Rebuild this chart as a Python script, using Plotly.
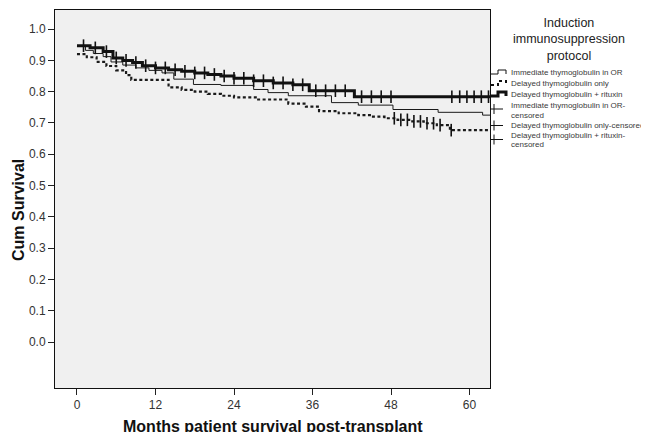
import numpy as np
import plotly.graph_objects as go

# ---------------- data ----------------
imm_months = [0, 1.3, 2.5, 4, 5.2, 7, 9, 11, 13, 14.8, 17.8, 22, 27, 29.2, 32.3, 38.9, 43, 48.3, 55.2, 62, 63.2]
imm_surv = [0.945, 0.932, 0.922, 0.912, 0.895, 0.885, 0.876, 0.868, 0.86, 0.84, 0.823, 0.82, 0.807, 0.797,
            0.787, 0.765, 0.757, 0.743, 0.734, 0.725, 0.725]

del_months = [0, 1.5, 3, 4.5, 6, 7.5, 8.3, 14, 16, 18, 20, 22, 24, 27.7, 32.3, 35, 37, 40, 43, 45, 47, 49,
              51, 53, 55, 57, 63.2]
del_surv = [0.92, 0.91, 0.895, 0.882, 0.868, 0.853, 0.838, 0.814, 0.806, 0.8, 0.793, 0.787, 0.782, 0.775,
            0.762, 0.752, 0.738, 0.731, 0.725, 0.72, 0.715, 0.71, 0.705, 0.699, 0.693, 0.677, 0.677]

rit_months = [0, 2, 4, 5.5, 7, 8.5, 10, 12, 14, 16, 18, 20, 22, 24, 27, 30, 33, 35.5, 42.4, 63.2]
rit_surv = [0.947, 0.94, 0.928, 0.908, 0.9, 0.893, 0.883, 0.876, 0.87, 0.865, 0.86, 0.855, 0.85, 0.843,
            0.835, 0.828, 0.822, 0.803, 0.784, 0.784]

imm_censor_months = []
del_censor_months = [48.5, 49.5, 50.5, 51.5, 52.5, 53.5, 54.5, 55.5, 57.2]
rit_censor_months = [1, 2.8, 4.5, 6, 7.5, 9, 10.5, 12, 13.5, 15, 16.5, 18, 19.5, 21, 22.5, 24, 25.5, 27,
                     28.5, 30, 31.5, 33, 34.5, 36.5, 38, 39.5, 41, 43.5, 45, 46.5, 48,
                     57.3, 58.5, 59.6, 60.7, 61.8, 62.9]

x_ticks = [0, 12, 24, 36, 48, 60]
y_ticks = [0.0, 0.1, 0.2, 0.3, 0.4, 0.5, 0.6, 0.7, 0.8, 0.9, 1.0]
y_tick_labels = ["0.0", "0.1", "0.2", "0.3", "0.4", "0.5", "0.6", "0.7", "0.8", "0.9", "1.0"]

x_title = "Months patient survival post-transplant"
y_title = "Cum Survival"
legend_title = "Induction<br>immunosuppression<br>protocol"
legend_lines = ["Immediate thymoglobulin in OR",
                "Delayed thymoglobulin only",
                "Delayed thymoglobulin + rituxin",
                "Immediate thymoglobulin in OR-",
                "censored",
                "Delayed thymoglobulin only-censorec",
                "Delayed thymoglobulin + rituxin-",
                "censored"]

# ---------------- geometry helpers (window pixel -> paper) ----------------
# the page body has an 8px margin, so the figure is drawn 8px smaller and offset
OFF = 8
WIN_W, WIN_H = 649, 432
W, H = WIN_W - OFF, WIN_H - OFF
L, R, T, B = 55, 490, 10, 388   # plot frame in window pixels
def px(x):
    return (x - L) / (R - L)
def py(y):
    return (B - y) / (B - T)

def step_at(months, surv, t):
    m = np.asarray(months)
    s = np.asarray(surv)
    idx = np.searchsorted(m, t, side="right") - 1
    return s[np.clip(idx, 0, len(s) - 1)]

FONT = "Arial, Liberation Sans, sans-serif"

fig = go.Figure()

fig.add_trace(go.Scatter(x=imm_months, y=imm_surv, mode="lines", line_shape="hv",
                         line=dict(color="#1a1a1a", width=1), name=legend_lines[0]))
fig.add_trace(go.Scatter(x=del_months, y=del_surv, mode="lines", line_shape="hv",
                         line=dict(color="#1a1a1a", width=2.2, dash="3px,2.5px"), name=legend_lines[1]))
fig.add_trace(go.Scatter(x=rit_months, y=rit_surv, mode="lines", line_shape="hv",
                         line=dict(color="#111111", width=3), name=legend_lines[2]))

cross = dict(symbol="line-ns", size=9, line=dict(width=1.6, color="#111111"))
for months, surv, cm in [(imm_months, imm_surv, imm_censor_months),
                         (del_months, del_surv, del_censor_months),
                         (rit_months, rit_surv, rit_censor_months)]:
    if len(cm):
        fig.add_trace(go.Scatter(x=cm, y=step_at(months, surv, cm), mode="markers",
                                 marker=cross, hoverinfo="skip"))

shapes = []
annotations = []

# legend symbols
line_syms = [(74, 1, None), (85, 2, "dot"), (96, 3, None)]
for yy, w, dash in line_syms:
    path = "M {} {} L {} {} L {} {} L {} {} L {} {}".format(
        px(491), py(yy), px(498), py(yy), px(498), py(yy - 4), px(506), py(yy - 4), px(506), py(yy))
    shapes.append(dict(type="path", xref="paper", yref="paper", path=path,
                       line=dict(color="#111111", width=w, dash=dash)))
for yy in [109, 125.5, 139.5]:
    shapes.append(dict(type="line", xref="paper", yref="paper", x0=px(490), x1=px(503), y0=py(yy), y1=py(yy),
                       line=dict(color="#111111", width=1)))
    shapes.append(dict(type="line", xref="paper", yref="paper", x0=px(494), x1=px(494), y0=py(yy - 5),
                       y1=py(yy + 5), line=dict(color="#111111", width=1)))

label_y = [72, 83, 94.5, 105.5, 115, 125.5, 135.5, 145]
for lab, yy in zip(legend_lines, label_y):
    annotations.append(dict(text=lab, xref="paper", yref="paper", x=px(509), y=py(yy), xanchor="left",
                            yanchor="middle", showarrow=False, align="left",
                            font=dict(family=FONT, size=8, color="#3a3a3a")))
annotations.append(dict(text=legend_title, xref="paper", yref="paper", x=px(569), y=py(39), xanchor="center",
                        yanchor="middle", showarrow=False, align="center",
                        font=dict(family=FONT, size=12.5, color="#222222")))

annotations.append(dict(text="<b>" + x_title + "</b>", xref="paper", yref="paper", x=px(273), y=py(426),
                        xanchor="center", yanchor="middle", showarrow=False,
                        font=dict(family=FONT, size=16, color="#111111")))
annotations.append(dict(text="<b>" + y_title + "</b>", xref="paper", yref="paper", x=px(18), y=py(210),
                        xanchor="center", yanchor="middle", showarrow=False, textangle=-90,
                        font=dict(family=FONT, size=16, color="#111111")))

fig.update_layout(
    width=W, height=H,
    margin=dict(l=L - OFF, r=WIN_W - R, t=T - OFF, b=WIN_H - B, pad=0),
    paper_bgcolor="white",
    plot_bgcolor="#f0f0f0",
    showlegend=False,
    shapes=shapes,
    annotations=annotations,
    font=dict(family=FONT),
)
fig.update_xaxes(range=[-3.36, 63.13], tickvals=x_ticks, ticks="outside", ticklen=6, tickcolor="#222",
                 tickfont=dict(family=FONT, size=12, color="#333"), showgrid=False, zeroline=False,
                 showline=True, linecolor="#111", linewidth=1, mirror=True)
fig.update_yaxes(range=[-0.147, 1.061], tickvals=y_ticks, ticktext=y_tick_labels, ticks="outside",
                 ticklen=6, tickcolor="#222", tickfont=dict(family=FONT, size=12, color="#333"),
                 showgrid=False, zeroline=False, showline=True, linecolor="#111", linewidth=1, mirror=True)

fig.write_html("out.html")
